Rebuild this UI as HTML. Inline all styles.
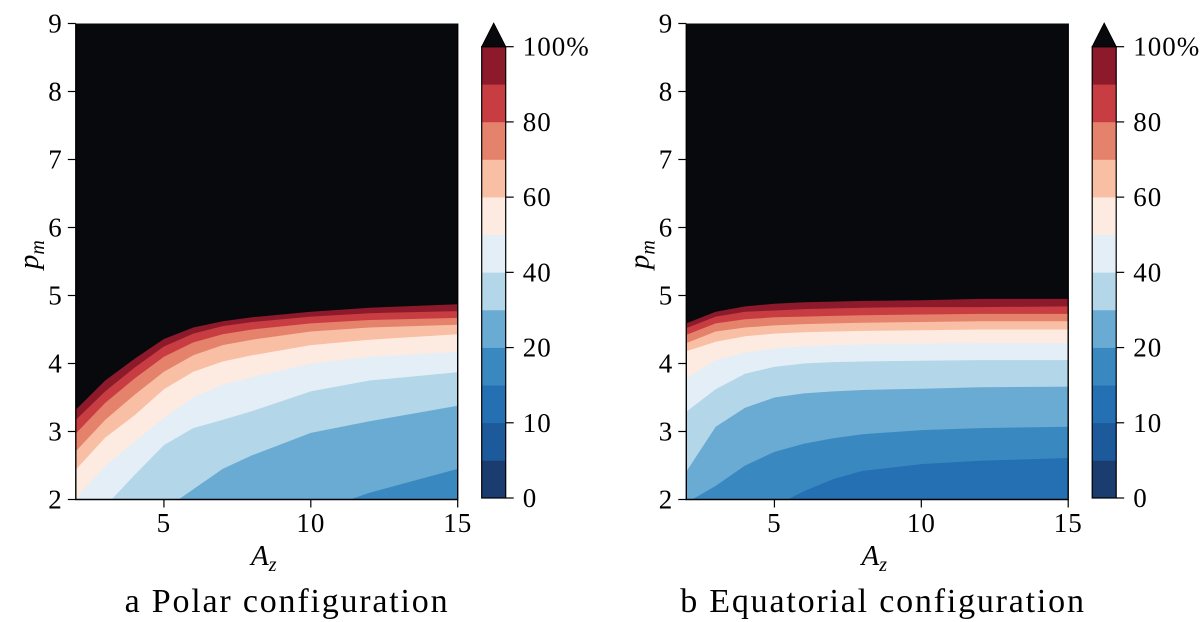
<!DOCTYPE html>
<html><head><meta charset="utf-8"><style>
html,body{margin:0;padding:0;background:#fff;}
svg{display:block;font-family:"Liberation Serif",serif;}
</style></head><body>
<svg id="chart" width="1200" height="622" viewBox="0 0 1200 622" xmlns="http://www.w3.org/2000/svg"></svg>
<script>
const azGrid = [2,3,4,5,6,7,8,10,12,15];
const levels = [15,20,30,40,50,60,70,80,90,100];
// polar configuration boundaries (p_m at each A_z)
const polar15 = [1,1,1,1,1,1,1,1,1,1];
const polar20 = [1,1,1,1,1,1,1,1.8,2.1,2.45];
const polar30 = [1,1,1.5,1.85,2.15,2.45,2.65,2.98,3.15,3.38];
const polar40 = [1.5,1.9,2.36,2.8,3.05,3.17,3.3,3.59,3.75,3.87];
const polar50 = [2.02,2.49,2.85,3.2,3.5,3.69,3.8,4.0,4.1,4.17];
const polar60 = [2.44,2.91,3.24,3.62,3.88,4.03,4.12,4.27,4.35,4.43];
const polar70 = [2.71,3.17,3.54,3.88,4.12,4.27,4.35,4.47,4.53,4.57];
const polar80 = [2.97,3.42,3.78,4.1,4.31,4.43,4.5,4.59,4.64,4.67];
const polar90 = [3.17,3.59,3.94,4.25,4.44,4.55,4.61,4.69,4.74,4.77];
const polar100 = [3.32,3.75,4.07,4.36,4.53,4.62,4.68,4.76,4.82,4.87];
// equatorial configuration boundaries
const equat15 = [1,1,1.5,1.9,2.12,2.3,2.42,2.52,2.57,2.61];
const equat20 = [1.95,2.2,2.5,2.7,2.82,2.9,2.96,3.02,3.05,3.07];
const equat30 = [2.41,3.07,3.35,3.5,3.56,3.59,3.61,3.63,3.65,3.66];
const equat40 = [3.29,3.62,3.85,3.95,4.0,4.02,4.03,4.04,4.05,4.05];
const equat50 = [3.78,4.05,4.16,4.22,4.25,4.27,4.28,4.29,4.3,4.3];
const equat60 = [4.18,4.32,4.4,4.44,4.46,4.47,4.48,4.49,4.5,4.5];
const equat70 = [4.3,4.47,4.53,4.56,4.58,4.59,4.6,4.61,4.62,4.62];
const equat80 = [4.42,4.59,4.65,4.68,4.69,4.7,4.71,4.72,4.73,4.73];
const equat90 = [4.52,4.69,4.76,4.78,4.8,4.81,4.82,4.83,4.83,4.84];
const equat100 = [4.59,4.76,4.84,4.88,4.9,4.91,4.92,4.93,4.95,4.95];
const cbBounds = [0,5,10,15,20,30,40,50,60,70,80,90,100];
const cbTickValues = [0,10,20,40,60,80,100];
const cbTickLabels = ["0","10","20","40","60","80","100%"];
const xTicks = [5,10,15];
const yTicks = [2,3,4,5,6,7,8,9];
const bandColors = ["#1b3c6e","#1d5a9c","#2470b3","#3a88c0","#6aabd4","#b3d6e8","#e3eef6","#fdebe2","#f8bfa4","#e5826b","#c83d41","#8c1a2b"];
const overColor = "#07090c";

const NS = "http://www.w3.org/2000/svg";
const svg = document.getElementById('chart');
function mk(tag, attrs, parent){const e=document.createElementNS(NS,tag);for(const k in attrs)e.setAttribute(k,attrs[k]);(parent||svg).appendChild(e);return e;}
function colorAbove(level){const i=cbBounds.indexOf(level);return i>=cbBounds.length-1?overColor:bandColors[i];}

function panel(id, off, curves, caption, capX){
  const x0=75.8+off, x1=457.7+off, yTop=23.5, yBot=499.5;
  const xs=a=>x0+(a-2)*(x1-x0)/13;
  const ys=p=>yBot-(p-2)*(yBot-yTop)/7;
  const g=mk('g',{});
  
  
  const cp=mk('clipPath',{id:'clip'+id},g);
  mk('rect',{x:x0,y:yTop,width:x1-x0,height:yBot-yTop},cp);
  const fg=mk('g',{'clip-path':'url(#clip'+id+')'},g);
  
  
  const base=mk('rect',{x:x0,y:yTop,width:x1-x0,height:yBot-yTop,fill:bandColors[2]},fg);
  
  
  levels.forEach((lv,li)=>{
    const c=curves[li];
    let pts=azGrid.map((a,i)=>xs(a).toFixed(1)+','+ys(c[i]).toFixed(1));
    pts.push(xs(15.5).toFixed(1)+','+ys(c[c.length-1]).toFixed(1));
    pts.push(xs(15.5)+','+ys(9.5));
    pts.push(xs(1.5)+','+ys(9.5));
    pts.push(xs(1.5).toFixed(1)+','+ys(c[0]).toFixed(1));
    const poly=mk('polygon',{points:pts.join(' '),fill:colorAbove(lv)},fg);
    
    
  });
  mk('path',{d:`M${x0},${yTop}V${yBot}H${x1}V${yTop}`,fill:'none',stroke:'#000','stroke-width':1.4},g);
  yTicks.forEach(t=>{
    mk('line',{x1:x0-8,x2:x0,y1:ys(t),y2:ys(t),stroke:'#000','stroke-width':1.2},g);
    const tx=mk('text',{x:x0-14,y:ys(t)+9,'text-anchor':'end','font-size':27},g);
    tx.textContent=t;
    
    
  });
  xTicks.forEach(t=>{
    mk('line',{x1:xs(t),x2:xs(t),y1:yBot,y2:yBot+8,stroke:'#000','stroke-width':1.2},g);
    const tx=mk('text',{x:xs(t),y:532,'text-anchor':'middle','font-size':27,'letter-spacing':1},g);
    tx.textContent=t;
    
    
  });
  const xl=mk('text',{x:(x0+x1)/2-3,y:565,'text-anchor':'middle','font-size':29,'font-style':'italic'},g);
  xl.innerHTML='A<tspan font-size="20" dy="6">z</tspan>';
  
  
  const yl=mk('text',{x:0,y:0,'text-anchor':'middle','font-size':29,'font-style':'italic',transform:`translate(${x0-38},${ys(5.6)}) rotate(-90)`},g);
  yl.innerHTML='p<tspan font-size="20" dy="6">m</tspan>';
  
  
  const cap=mk('text',{x:capX,y:612,'text-anchor':'middle','font-size':34,'letter-spacing':1.8},g);
  cap.textContent=caption;
  
  
  const cx0=481.7+off, cx1=505.7+off, cTop=46.7, cBot=498;
  const cb=mk('g',{},g);
  
  
  const n=bandColors.length, bh=(cBot-cTop)/n;
  bandColors.forEach((col,i)=>{
    const r=mk('rect',{x:cx0,y:cBot-(i+1)*bh,width:cx1-cx0,height:bh+0.3,fill:col},cb);
    
    
  });
  const tri=mk('polygon',{points:`${cx0},${cTop} ${cx1},${cTop} ${(cx0+cx1)/2},${cTop-23.5}`,fill:overColor,stroke:'#000','stroke-width':1},cb);
  
  
  mk('rect',{x:cx0,y:cTop,width:cx1-cx0,height:cBot-cTop,fill:'none',stroke:'#000','stroke-width':1.2},cb);
  cbTickValues.forEach((v,i)=>{
    const yy=cBot-cbBounds.indexOf(v)*bh;
    mk('line',{x1:cx1,x2:cx1+8,y1:yy,y2:yy,stroke:'#000','stroke-width':1.2},cb);
    const tx=mk('text',{x:cx1+17,y:yy+9,'font-size':27,'letter-spacing':1},cb);
    tx.textContent=cbTickLabels[i];
    
    
  });
}
panel('polar',0,[polar15,polar20,polar30,polar40,polar50,polar60,polar70,polar80,polar90,polar100],'a Polar configuration',287);
panel('equatorial',610.5,[equat15,equat20,equat30,equat40,equat50,equat60,equat70,equat80,equat90,equat100],'b Equatorial configuration',883);
</script>
</body></html>
